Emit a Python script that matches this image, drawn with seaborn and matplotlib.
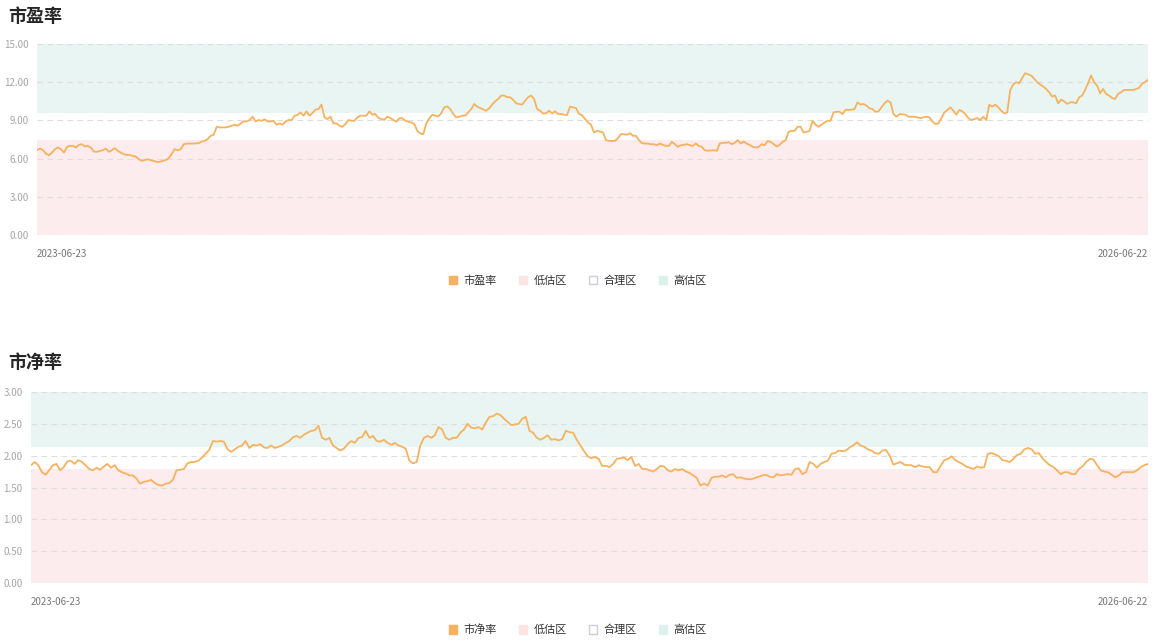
import pandas as pd
import seaborn as sns
import matplotlib.pyplot as plt
from matplotlib.patches import Patch

sns.set_style("white")
plt.rcParams["font.family"] = ["Noto Sans CJK SC", "DejaVu Sans"]

start_date = "2023-06-23"
end_date = "2026-06-22"

# 市盈率 (left to right)
pe_values = [
    6.66, 6.79, 6.66, 6.39, 6.26, 6.47, 6.74, 6.87, 6.74, 6.47, 6.92, 7.00, 7.00, 6.87, 7.08, 7.13,
    6.95, 7.00, 6.87, 6.55, 6.53, 6.60, 6.66, 6.79, 6.53, 6.66, 6.82, 6.60, 6.47, 6.34, 6.29, 6.29,
    6.21, 6.16, 5.95, 5.82, 5.89, 5.95, 5.87, 5.82, 5.74, 5.74, 5.82, 5.89, 6.03, 6.39, 6.74, 6.66,
    6.74, 7.13, 7.18, 7.18, 7.18, 7.20, 7.21, 7.34, 7.39, 7.53, 7.79, 7.87, 8.50, 8.45, 8.45, 8.45,
    8.50, 8.58, 8.66, 8.58, 8.76, 8.92, 8.92, 9.03, 9.29, 8.92, 9.03, 8.97, 9.08, 8.92, 8.92, 8.97,
    8.66, 8.76, 8.66, 8.92, 9.03, 9.03, 9.37, 9.42, 9.63, 9.37, 9.71, 9.37, 9.58, 9.84, 9.89, 10.24,
    9.24, 9.11, 9.29, 8.76, 8.76, 8.58, 8.50, 8.71, 9.03, 8.97, 8.97, 9.24, 9.37, 9.37, 9.37, 9.71,
    9.45, 9.50, 9.18, 9.11, 9.05, 9.29, 9.18, 9.03, 8.89, 9.18, 9.16, 8.97, 8.89, 8.84, 8.71, 8.18,
    7.97, 7.92, 8.76, 9.16, 9.45, 9.37, 9.32, 9.55, 10.03, 10.10, 9.89, 9.50, 9.24, 9.29, 9.37, 9.37,
    9.63, 9.89, 10.29, 10.08, 9.97, 9.87, 9.76, 9.95, 10.24, 10.50, 10.68, 10.95, 10.95, 10.82, 10.82, 10.61,
    10.34, 10.29, 10.24, 10.55, 10.82, 10.95, 10.68, 9.89, 9.76, 9.55, 9.55, 9.76, 9.55, 9.71, 9.50, 9.50,
    9.45, 9.42, 10.08, 10.03, 9.97, 9.50, 9.42, 9.11, 8.84,
    8.66, 8.05, 8.18, 8.13, 8.05, 7.45, 7.39, 7.39, 7.39, 7.61, 7.92, 7.92, 7.87, 8.00, 7.79, 7.79,
    7.45, 7.21, 7.18, 7.18, 7.13, 7.13, 7.05, 7.18, 7.08, 7.00, 7.00, 7.32, 7.13, 6.92, 7.05, 7.08,
    7.13, 7.05, 7.00, 7.18, 7.00, 6.92, 6.66, 6.61, 6.64, 6.66, 6.61, 7.18, 7.24, 7.24, 7.29, 7.13,
    7.24, 7.45, 7.18, 7.34, 7.18, 7.08, 6.92, 6.87, 6.92, 7.13, 7.05, 7.39, 7.32, 7.13, 6.95, 7.08,
    7.32, 7.45, 8.11, 8.18, 8.18, 8.50, 8.50, 8.05, 8.11, 8.18, 8.97, 8.66, 8.50, 8.66, 8.84, 8.97,
    8.97, 9.63, 9.68, 9.68, 9.50, 9.84, 9.82, 9.84, 9.89, 10.42, 10.24, 10.29, 10.16, 9.95, 9.89, 9.68,
    9.71, 10.03, 10.34, 10.55, 10.42, 9.50, 9.29, 9.50, 9.48, 9.45, 9.29, 9.29, 9.29, 9.24, 9.18, 9.24,
    9.29, 9.24, 8.92, 8.71, 8.76, 9.18, 9.63, 9.82, 10.03, 9.76, 9.45, 9.82, 9.71, 9.50, 9.18, 9.03,
    9.11, 9.18, 9.03, 9.29, 9.03, 10.24, 10.08, 10.24, 10.03, 9.76, 9.55, 9.63, 11.39, 11.82, 12.00, 11.92,
    12.34, 12.71, 12.61, 12.53, 12.26, 12.00, 11.82, 11.66, 11.47, 11.21, 10.87, 10.95, 10.34, 10.63, 10.50, 10.29,
    10.42, 10.42, 10.34, 10.82, 10.95, 11.39, 11.92, 12.53, 12.00, 11.74, 11.13, 11.47, 11.08, 10.95, 10.76, 10.68,
    11.08, 11.21, 11.39, 11.39, 11.39, 11.39, 11.47, 11.55, 11.87, 12.00, 12.18,
]

# 市净率 (left to right)
pb_values = [
    1.85, 1.90, 1.85, 1.74, 1.70, 1.77, 1.85, 1.87, 1.77, 1.82, 1.91, 1.92, 1.87, 1.93, 1.90, 1.85,
    1.79, 1.77, 1.81, 1.78, 1.83, 1.87, 1.81, 1.85, 1.77, 1.74, 1.72, 1.69, 1.69, 1.64, 1.56, 1.59,
    1.60, 1.62, 1.57, 1.54, 1.53, 1.56, 1.57, 1.62, 1.77, 1.78, 1.79, 1.88, 1.90, 1.90, 1.92, 1.97,
    2.03, 2.09, 2.23, 2.22, 2.23, 2.22, 2.10, 2.06, 2.10, 2.14, 2.16, 2.23, 2.12, 2.17, 2.16, 2.18,
    2.13, 2.12, 2.16, 2.12, 2.14, 2.16, 2.20, 2.23, 2.29, 2.31, 2.28, 2.33, 2.36, 2.39, 2.40, 2.47,
    2.28, 2.25, 2.28, 2.16, 2.12, 2.08, 2.11, 2.18, 2.23, 2.20, 2.28, 2.29, 2.39, 2.28, 2.31, 2.23,
    2.22, 2.25, 2.20, 2.17, 2.20, 2.16, 2.14, 2.11, 1.92, 1.88, 1.90, 2.16, 2.28, 2.31, 2.28, 2.32,
    2.45, 2.41, 2.28, 2.25, 2.28, 2.28, 2.36, 2.41, 2.50, 2.44, 2.43, 2.45, 2.41, 2.52, 2.61, 2.62,
    2.66, 2.64, 2.58, 2.53, 2.48, 2.49, 2.50, 2.58, 2.61, 2.39, 2.36, 2.28, 2.25, 2.28, 2.32, 2.25,
    2.26, 2.24, 2.26, 2.39, 2.37, 2.36, 2.25, 2.16, 2.07, 1.99, 1.96, 1.98, 1.95, 1.84, 1.84, 1.82,
    1.87, 1.95, 1.96, 1.97, 1.93, 1.98, 1.84, 1.87, 1.79, 1.79, 1.77, 1.75, 1.79, 1.84, 1.83, 1.77,
    1.75, 1.79, 1.77, 1.79, 1.75, 1.73, 1.69, 1.65, 1.53, 1.56, 1.53, 1.65, 1.67, 1.67, 1.69, 1.66,
    1.70, 1.71, 1.65, 1.66, 1.64, 1.63, 1.63, 1.65, 1.67, 1.69, 1.70, 1.67, 1.66, 1.71, 1.69, 1.70,
    1.71, 1.70, 1.79, 1.80, 1.71, 1.74, 1.90, 1.87, 1.81, 1.87, 1.90, 1.92, 2.03, 2.04, 2.08, 2.07,
    2.08, 2.13, 2.16, 2.21, 2.16, 2.14, 2.10, 2.08, 2.04, 2.03, 2.08, 2.09, 2.00, 1.86, 1.88, 1.90,
    1.86, 1.85, 1.85, 1.82, 1.85, 1.83, 1.82, 1.82, 1.74, 1.74, 1.84, 1.93, 1.95, 1.99, 1.93, 1.90,
    1.87, 1.83, 1.81, 1.79, 1.83, 1.81, 1.82, 2.03, 2.04, 2.02, 1.99, 1.93, 1.92, 1.90, 1.95, 2.01,
    2.03, 2.10, 2.12, 2.10, 2.03, 2.04, 1.96, 1.90, 1.85, 1.82, 1.77, 1.71, 1.74, 1.74, 1.71, 1.71,
    1.79, 1.83, 1.90, 1.95, 1.94, 1.85, 1.77, 1.75, 1.74, 1.70, 1.66, 1.69, 1.74, 1.74, 1.74, 1.74,
    1.77, 1.82, 1.85, 1.87,
]

pe_low, pe_high = 7.47, 9.58
pb_low, pb_high = 1.79, 2.13

pe_ticks = [0, 3, 6, 9, 12, 15]
pb_ticks = [0, 0.5, 1.0, 1.5, 2.0, 2.5, 3.0]

line_color = "#F7B25F"
low_color = "#FDECED"
high_color = "#E8F5F2"
low_legend = "#FCE3E4"
high_legend = "#DCF0EC"
tick_color = "#A6A6A6"


def draw_panel(ax, values, low, high, ticks):
    dates = pd.date_range(start_date, end_date, periods=len(values))
    df = pd.DataFrame({"date": dates, "value": values})
    ax.axhspan(0, low, color=low_color, lw=0, zorder=0)
    ax.axhspan(high, ticks[-1], color=high_color, lw=0, zorder=0)
    sns.lineplot(data=df, x="date", y="value", ax=ax, color=line_color, linewidth=1.3, zorder=3)
    ax.set_ylim(ticks[0], ticks[-1])
    ax.set_xlim(dates[0], dates[-1])
    ax.set_yticks(ticks)
    ax.set_yticklabels([f"{t:.2f}" for t in ticks], color=tick_color, fontsize=7)
    ax.set_xticks([dates[0], dates[-1]])
    ax.set_xticklabels([start_date, end_date], color="#777777", fontsize=7)
    labels = ax.get_xticklabels()
    labels[0].set_ha("left")
    labels[1].set_ha("right")
    ax.tick_params(axis="x", length=0, pad=10)
    ax.tick_params(axis="y", length=0, pad=6)
    ax.grid(axis="y", color="#DDDDDD", linestyle=(0, (5, 4)), linewidth=0.8)
    ax.set_axisbelow(False)
    for s in ax.spines.values():
        s.set_visible(False)
    ax.set_xlabel("")
    ax.set_ylabel("")
    handles = [
        Patch(facecolor=line_color, edgecolor=line_color),
        Patch(facecolor=low_legend, edgecolor=low_legend),
        Patch(facecolor="white", edgecolor="#CCCCDD"),
        Patch(facecolor=high_legend, edgecolor=high_legend),
    ]
    return handles


fig = plt.figure(figsize=(11.55, 6.41), dpi=100)

ax1 = fig.add_axes([37 / 1155, 1 - 235 / 641, 1111 / 1155, 191 / 641])
h1 = draw_panel(ax1, pe_values, pe_low, pe_high, pe_ticks)
ax2 = fig.add_axes([31 / 1155, 1 - 583 / 641, 1117 / 1155, 191 / 641])
h2 = draw_panel(ax2, pb_values, pb_low, pb_high, pb_ticks)

fig.text(8 / 1155, 1 - 17 / 641, "市盈率", fontsize=13, fontweight="bold", va="center", ha="left")
fig.text(8 / 1155, 1 - 362 / 641, "市净率", fontsize=13, fontweight="bold", va="center", ha="left")

leg_kw = dict(loc="center", ncol=4, frameon=False, fontsize=8, handlelength=0.75, handleheight=0.75,
              handletextpad=0.6, columnspacing=1.95, labelcolor="#333333")
fig.legend(h1, ["市盈率", "低估区", "合理区", "高估区"], bbox_to_anchor=(578 / 1155, 1 - 281 / 641), **leg_kw)
fig.legend(h2, ["市净率", "低估区", "合理区", "高估区"], bbox_to_anchor=(578 / 1155, 1 - 630 / 641), **leg_kw)

fig.savefig("out.png", dpi=100)
